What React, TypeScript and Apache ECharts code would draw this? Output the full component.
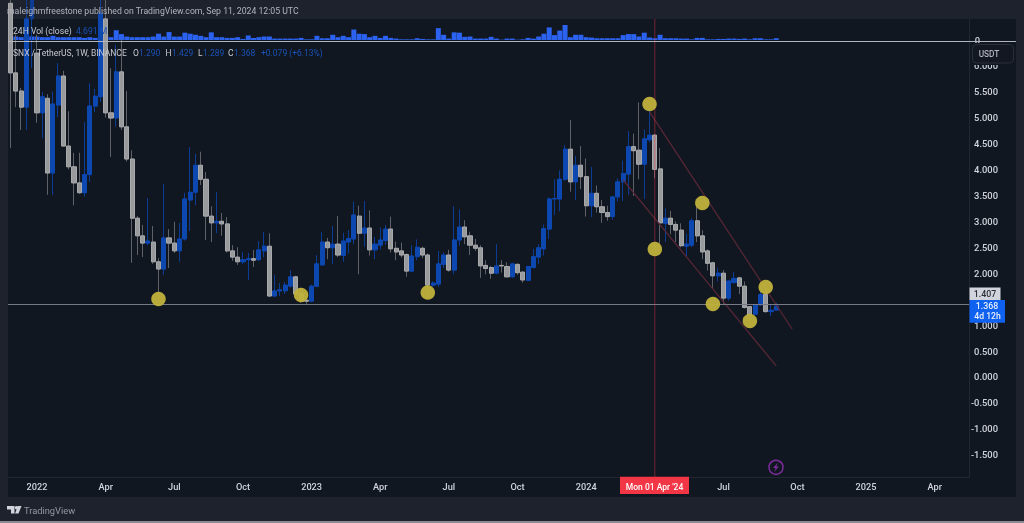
import React, { useEffect, useRef } from "react";
import * as echarts from "echarts";

const opens = [
  7.2,5.86,5.51,5.2,6.9,6.24,5.09,5.37,3.93,5.24,
  5.8,4.45,4.05,3.74,3.55,3.9,5.22,5.4,6.9,5.09,
  4.99,5.88,4.82,4.2,3.06,2.72,2.58,2.6,2.22,2.08,
  2.68,2.58,2.43,2.66,3.41,3.56,4.08,3.81,3.1,2.97,
  3,2.95,2.43,2.31,2.22,2.26,2.28,2.26,2.43,2.52,
  1.56,1.66,1.66,1.75,1.93,1.6,1.48,1.46,1.75,2.16,
  2.6,2.49,2.56,2.34,2.6,2.66,3.1,2.77,2.87,2.45,
  2.54,2.63,2.85,2.48,2.43,2.36,2.04,2.32,2.48,2.35,
  1.77,1.79,2.17,2.35,2.06,2.64,2.89,2.72,2.54,2.49,
  2.15,2.11,2,2.15,2.13,1.93,2.17,2.02,1.86,2.11,
  2.31,2.47,2.85,3.43,3.43,3.81,4.39,3.76,4.08,3.86,
  3.3,3.54,3.28,3.17,3.09,3.47,3.76,3.91,4.44,4.37,
  4.1,4.57,4.66,4.01,2.96,3.06,2.94,2.83,2.52,2.54,
  3.01,2.72,2.43,2.2,1.95,2,1.52,1.82,1.91,1.75,
  1.355,1.21,1.39,1.59,1.26,1.29,
];
const closes = [
  5.86,5.51,5.2,6.9,7.4,5.09,5.4,3.93,5.26,5.8,
  4.45,4.05,3.74,3.55,3.9,5.22,5.41,7.0,5.09,4.99,
  5.88,4.82,4.2,3.06,2.72,2.58,2.62,2.22,2.08,2.68,
  2.58,2.43,2.66,3.43,3.56,4.08,3.81,3.1,2.97,3,
  2.95,2.43,2.31,2.22,2.26,2.28,2.25,2.45,2.52,1.56,
  1.66,1.68,1.77,1.93,1.6,1.46,1.46,1.75,2.18,2.6,
  2.49,2.56,2.35,2.62,2.67,3.12,2.77,2.87,2.45,2.56,
  2.64,2.85,2.47,2.41,2.35,2.04,2.33,2.5,2.35,1.77,
  1.81,2.18,2.35,2.06,2.64,2.89,2.7,2.54,2.48,2.14,
  2.09,2,2.14,2.14,1.93,2.18,2.01,1.87,2.13,2.32,
  2.49,2.86,3.43,3.44,3.81,4.39,3.76,4.08,3.86,3.3,
  3.54,3.28,3.17,3.09,3.47,3.76,3.92,4.44,4.36,4.1,
  4.59,4.66,4,2.97,3.06,2.94,2.83,2.53,2.56,3.01,
  2.72,2.41,2.19,1.95,2,1.52,1.85,1.9,1.75,1.34,
  1.19,1.39,1.59,1.26,1.285,1.368,
];
const highs = [
  7.8,6.6,5.57,7.3,7.8,6.6,5.49,5.45,5.5,6.05,
  5.9,5.12,4.32,4.32,4.91,5.66,5.55,7.6,7.3,5.95,
  6.4,6.5,5.51,4.37,3.1,2.93,3.45,2.91,2.29,3.72,
  2.85,2.99,2.97,3.55,4.43,4.3,4.34,3.95,3.29,3.56,
  3.16,3.08,2.54,2.5,2.41,2.39,2.45,2.62,2.79,2.77,
  1.97,1.81,1.83,2.06,1.95,1.72,1.55,1.78,2.35,2.79,
  2.68,2.91,3.1,2.78,2.83,3.38,3.3,3.39,3.21,2.7,
  2.88,2.93,3.09,2.61,2.59,2.38,2.54,2.65,2.51,2.38,
  1.84,2.43,2.4,2.45,3.29,3.23,3.02,2.8,2.66,2.54,
  2.25,2.14,2.56,2.25,2.21,2.2,2.19,2.04,2.14,2.47,
  2.56,2.94,3.46,3.81,3.98,4.47,4.95,4.26,4.45,4.21,
  4.05,3.69,3.41,3.3,3.49,3.83,4.17,4.74,4.69,5.29,
  4.77,5.22,4.68,4.41,3.25,3.2,3,2.96,2.76,3.06,
  3.35,2.83,2.46,2.22,2.11,2.06,1.87,2.03,1.93,1.84,
  1.37,1.4,1.74,1.77,1.39,1.429,
];
const lows = [
  4.41,5.2,4.76,4.76,5.95,4.9,4.6,3.51,3.51,5.01,
  4.45,4,3.31,3.53,3.47,3.76,5.1,5.3,5,4.24,
  4.82,4.76,4.15,2.2,2.35,2.31,2.54,2.18,1.52,1.97,
  2.1,2.39,2.22,2.63,2.81,3.31,3.7,2.64,2.6,2.77,
  2.72,2.4,2.24,2.16,2.18,1.87,2.12,2.24,2.31,1.54,
  1.54,1.56,1.6,1.72,1.58,1.43,1.41,1.44,1.73,2.15,
  2.27,2.18,2.31,2.22,2.38,2.56,1.98,2.51,2.34,2.27,
  2.46,2.55,2.4,2.25,2.3,1.93,2.02,2.25,2.29,1.61,
  1.74,1.73,2.1,2.03,1.98,2.53,2.56,2.35,2.43,1.91,
  1.98,1.89,1.98,2.01,1.92,1.91,1.97,1.82,1.85,2.09,
  2.17,2.34,2.66,3.12,3.19,3.78,3.57,3.41,3.62,3.09,
  3.08,3.17,2.97,3.01,3.03,3.38,3.39,3.51,3.49,3.81,
  3.43,4.52,3.83,2.55,2.6,2.75,2.6,2.5,2.33,2.5,
  2.6,2.27,2.05,1.71,1.84,1.41,1.47,1.8,1.6,1.32,
  1.07,1.19,1.37,1.24,1.175,1.289,
];
const volumes = [
  9,9,7.4,21,9,9,7.4,7.4,11,7.4,
  7.4,7.4,7.4,7.4,5.5,7.4,5.5,7.4,14,7.4,
  25.8,15.6,9,7.4,7.4,7.4,7.4,9,16.6,9,
  21,9,9,19.3,16.6,13.8,11,7.4,20.2,7.4,
  7.4,5.5,5.5,7.4,2.8,12,5.5,7.4,9.2,9.2,
  3.7,3.7,3.7,3.7,3.7,5.5,1.8,1.8,11,4.6,
  4.6,13.8,7.4,11,7.4,27.6,16.6,15.6,7.4,11,
  5.5,11,5.5,3.7,1.8,1.8,1.8,4.6,2.8,1.8,
  1.8,31.3,13.8,3.7,20.2,19.3,8.3,9.2,3.7,3.7,
  3.7,8.3,3.7,0.9,3.7,3.7,0.9,1.8,5.5,3.7,
  9.2,16.6,33.1,12.9,24.8,39.6,7.4,13.8,13.8,7.4,
  6.4,4.6,4.6,4.6,4.6,4.6,12.9,15.6,15.6,9.2,
  19.3,6.4,4.6,13.8,4.6,4.6,4.6,3.7,3.7,1.8,
  5.5,5.5,1.8,1.8,2.8,2.8,3.7,3.7,2.8,3.7,
  1.8,4.6,4.6,1.8,1.8,4.7,
];

// [week index, price] of the yellow marker dots
const dots = [
  [28,1.503],[55,1.58],[79,1.628],[121,5.26],[122,2.466],
  [131,3.353],[133,1.407],[140,1.079],[143,1.734],
];
const upperTrend = [[121,5.11],[148,0.925]];
const lowerTrend = [[116,3.796],[145,0.212]];
const hLevel = 1.407;
const cursorIndex = 122;

const firstWeek = "2021-11-29";
const weekCount = 182;
const xTicks: [string, string][] = [
  ["2022-01-03","2022"],["2022-04-04","Apr"],["2022-07-04","Jul"],["2022-10-03","Oct"],
  ["2023-01-02","2023"],["2023-04-03","Apr"],["2023-07-03","Jul"],["2023-10-02","Oct"],
  ["2024-01-01","2024"],["2024-07-01","Jul"],["2024-10-07","Oct"],
  ["2025-01-06","2025"],["2025-04-07","Apr"],
];
const priceTicks = [-1.5,-1,-0.5,0,0.5,1,2,2.5,3,3.5,4,4.5,5,5.5,6];

const PRICE_MIN = -1.927, PRICE_MAX = 6.455;
const VOL_MIN = -5.28, VOL_MAX = 55.44;
const FONT = "Roboto, 'Noto Sans', sans-serif";
const BLUE_TXT = "#1a52b5";
const PANEL = "#111721";

function weeks(): string[] {
  const out: string[] = [];
  const t0 = Date.parse(firstWeek + "T00:00:00Z");
  for (let i = 0; i < weekCount; i++) out.push(new Date(t0 + i * 7 * 864e5).toISOString().slice(0, 10));
  return out;
}

function txt(x: number, y: number, text: string, fill: string, size = 10, align = "left", weight = "normal") {
  return { type: "text", z: 110, x, y, style: { text, fill, font: `${weight} ${size}px ${FONT}`, textAlign: align, textVerticalAlign: "middle" } };
}
function box(x: number, y: number, w: number, h: number, fill: string, z = 100, stroke?: string, r = 0) {
  return { type: "rect", z, shape: { x, y, width: w, height: h, r }, style: { fill, stroke, lineWidth: stroke ? 1 : 0 } };
}

export default function App() {
  const ref = useRef<HTMLDivElement>(null);
  useEffect(() => {
    document.body.style.margin = "0";
    const chart = echarts.init(ref.current!, undefined, { renderer: "svg" });
    const cats = weeks();
    const tickMap = new Map(xTicks);
    const full = opens.map((o, i) => [o, closes[i], lows[i], highs[i]]);
    const bodies = opens.map((o, i) => [o, closes[i], Math.min(o, closes[i]), Math.max(o, closes[i])]);
    const lineSeries = (data: number[][], color: string, width: number, extra: any = {}) => ({
      type: "line", data, showSymbol: false, symbol: "none", animation: false, silent: true,
      lineStyle: { color, width }, z: 4, ...extra,
    });
    chart.setOption({
      animation: false,
      backgroundColor: "#1e222d",
      textStyle: { fontFamily: FONT },
      grid: [
        { left: 8, top: 42, width: 961, height: 435 },
        { left: 8, top: 19, width: 961, height: 23 },
      ],
      xAxis: [
        {
          type: "category", data: cats, gridIndex: 0, boundaryGap: true,
          axisLine: { show: true, onZero: false, lineStyle: { color: "#232732" } }, axisTick: { show: false }, splitLine: { show: false },
          axisLabel: {
            interval: (_: number, v: string) => tickMap.has(v),
            formatter: (v: string) => tickMap.get(v) ?? "",
            color: "#d1d4dc", fontSize: 9.2, fontFamily: FONT, fontWeight: 500, margin: 5, hideOverlap: false,
          },
        },
        { type: "category", data: cats, gridIndex: 1, boundaryGap: true, show: false },
      ],
      yAxis: [
        {
          type: "value", gridIndex: 0, position: "right", min: PRICE_MIN, max: PRICE_MAX, scale: true,
          axisLine: { show: true, lineStyle: { color: "#232732" } }, axisTick: { show: false }, splitLine: { show: false },
          axisLabel: {
            customValues: priceTicks, formatter: (v: number) => v.toFixed(3),
            color: "#d1d4dc", fontSize: 9.4, fontFamily: FONT, fontWeight: 500, align: "right", margin: 29,
          },
        },
        {
          type: "value", gridIndex: 1, position: "right", min: VOL_MIN, max: VOL_MAX,
          axisLine: { show: true, lineStyle: { color: "#232732" } }, axisTick: { show: false }, splitLine: { show: false },
          axisLabel: {
            customValues: [0], formatter: () => "0",
            color: "#d1d4dc", fontSize: 9.4, fontFamily: FONT, fontWeight: 500, align: "right", margin: 11,
          },
        },
      ],
      series: [
        {
          type: "candlestick", data: full, barWidth: 3, z: 2, silent: true,
          itemStyle: { color: "#0c3c94", color0: "#606267", borderColor: "#0c3c94", borderColor0: "#606267", borderWidth: 1 },
          markLine: {
            silent: true, symbol: "none", animation: false, label: { show: false },
            lineStyle: { color: "#787b86", width: 1, type: "solid" }, data: [{ yAxis: hLevel }],
          },
        },
        {
          type: "candlestick", data: bodies, barWidth: 4.6, z: 3, silent: true,
          itemStyle: { color: "#0d47b0", color0: "#999a9c", borderColor: "#0d47b0", borderColor0: "#a8a9ac", borderWidth: 1 },
        },
        lineSeries(upperTrend, "#5a2737", 1.2),
        lineSeries(lowerTrend, "#5a2737", 1.2),
        lineSeries([[cursorIndex, PRICE_MIN], [cursorIndex, PRICE_MAX]], "rgba(242,54,69,0.42)", 1, { z: 5 }),
        {
          type: "bar", data: volumes, xAxisIndex: 1, yAxisIndex: 1, barWidth: 5, z: 2, silent: true,
          itemStyle: { color: "#2c62f0" },
        },
        lineSeries([[cursorIndex, VOL_MIN], [cursorIndex, VOL_MAX]], "rgba(242,54,69,0.42)", 1, { xAxisIndex: 1, yAxisIndex: 1, z: 5 }),
        {
          type: "scatter", data: dots, symbol: "circle", symbolSize: 14.5, z: 6, silent: true,
          itemStyle: { color: "#bfb13b", opacity: 0.96 },
        },
      ],
      graphic: [
        box(8, 19, 1008, 478, PANEL, 0),
        { type: "line", z: 100, shape: { x1: 8, y1: 41.5, x2: 1016, y2: 41.5 }, style: { stroke: "#b2b5be", lineWidth: 1 } },
        box(0, 521, 1024, 2, "#8a8c92", 100),
        txt(7, 11, "maleighmfreestone published on TradingView.com, Sep 11, 2024 12:05 UTC", "#b2b5be", 8.7),
        txt(13, 31, "24H Vol (close)", "#c8cad2", 8.6),
        txt(76, 31, "4.691 M", BLUE_TXT, 8.6),
        txt(13, 53, "SNX / TetherUS, 1W, BINANCE", "#c8cad2", 8.5),
        txt(133, 53, "O", "#c8cad2", 8.5), txt(139, 53, "1.290", BLUE_TXT, 8.5),
        txt(165.5, 53, "H", "#c8cad2", 8.5), txt(172, 53, "1.429", BLUE_TXT, 8.5),
        txt(198, 53, "L", "#c8cad2", 8.5), txt(203, 53, "1.289", BLUE_TXT, 8.5),
        txt(228, 53, "C", "#c8cad2", 8.5), txt(234, 53, "1.368", BLUE_TXT, 8.5),
        txt(261, 53, "+0.079 (+6.13%)", BLUE_TXT, 8.5),
        box(970, 43, 46, 22, PANEL, 99),
        box(972.5, 44.5, 41, 18.5, "#131722", 100, "#2a2e39", 4),
        txt(989, 54, "USDT", "#b2b5be", 8.3, "center", "500"),
        box(969.5, 287.5, 31, 12.5, "#d1d4dc", 100),
        txt(985, 293.8, "1.407", "#2a2e39", 8.8, "center", "500"),
        box(969.5, 300, 35.5, 22.7, "#0f62f0", 100),
        txt(987, 306.3, "1.368", "#e8eefc", 8.8, "center", "500"),
        txt(987.5, 316.3, "4d 12h", "#e8eefc", 8.6, "center", "500"),
        box(620, 476.7, 69, 17.3, "#f23645", 100),
        txt(654.5, 487, "Mon 01 Apr '24", "#ffffff", 8.5, "center", "500"),
        { type: "circle", z: 100, shape: { cx: 776, cy: 467.3, r: 7 }, style: { fill: "transparent", stroke: "#7b2d9b", lineWidth: 1.5 } },
        { type: "polygon", z: 100, shape: { points: [[778,462.5],[773,468],[775.7,468],[774,472],[779,466.5],[776.3,466.5]] }, style: { fill: "#7b2d9b" } },
        { type: "polygon", z: 100, shape: { points: [[7,506],[14.5,506],[14.5,513.5],[11,513.5],[11,509.5],[7,509.5]] }, style: { fill: "#d1d4dc" } },
        { type: "circle", z: 100, shape: { cx: 16.5, cy: 507.7, r: 1.7 }, style: { fill: "#d1d4dc" } },
        { type: "polygon", z: 100, shape: { points: [[18,506],[21.5,506],[18.5,513.5],[15,513.5]] }, style: { fill: "#d1d4dc" } },
        txt(24, 510, "TradingView", "#9598a1", 9.3),
      ],
    });
    return () => chart.dispose();
  }, []);
  return <div ref={ref} style={{ width: 1024, height: 523, filter: "blur(0.45px)" }} />;
}
